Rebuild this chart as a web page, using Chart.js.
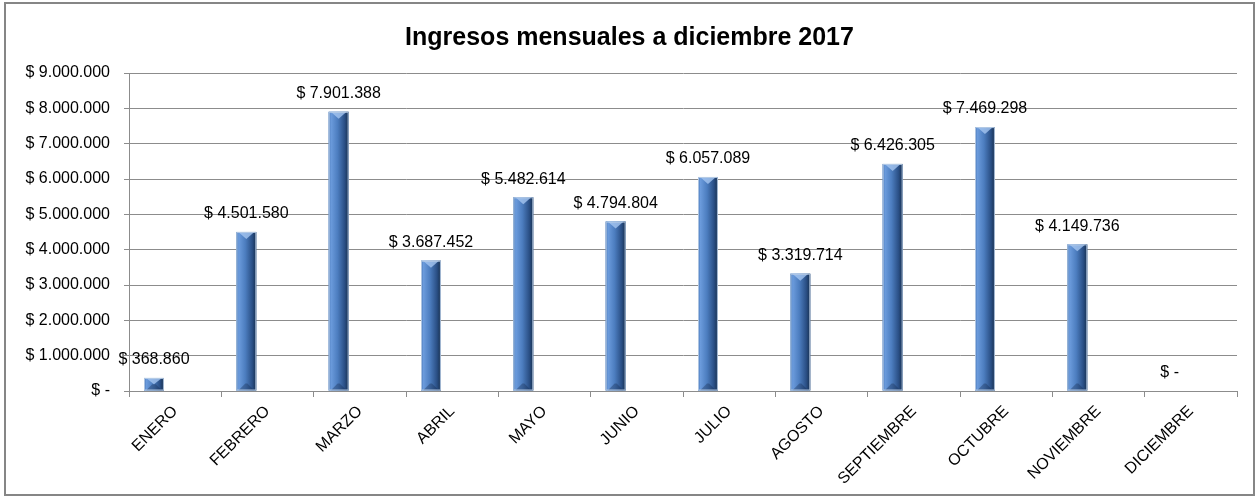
<!DOCTYPE html>
<html>
<head>
<meta charset="utf-8">
<script src="https://cdn.jsdelivr.net/npm/chart.js@4"></script>
<style>
  body { margin: 0; background: #fff; }
  #grafico { display: block; }
</style>
</head>
<body>
<canvas id="grafico" width="1259" height="497"></canvas>
<script>
// datos
var meses = ['ENERO', 'FEBRERO', 'MARZO', 'ABRIL', 'MAYO', 'JUNIO', 'JULIO', 'AGOSTO', 'SEPTIEMBRE', 'OCTUBRE', 'NOVIEMBRE', 'DICIEMBRE'];
var ingresos = [368860, 4501580, 7901388, 3687452, 5482614, 4794804, 6057089, 3319714, 6426305, 7469298, 4149736, 0];
// serie vacia (el original deja un hueco a la derecha de cada barra)
var vacio = [null, null, null, null, null, null, null, null, null, null, null, null];
var yMin = 0;
var yMax = 9000000;
var yPaso = 1000000;

var fuente = "'Liberation Sans', Arial, sans-serif";
var gris = '#8c8c8c';

function pesos(v) {
    if (!v) return '$ -';
    return '$ ' + String(v).replace(/\B(?=(\d{3})+(?!\d))/g, '.');
}

// marco exterior + barras con relieve + etiquetas
var estilo = {
    id: 'estilo',
    beforeDraw: function(chart) {
        var ctx = chart.ctx;
        ctx.save();
        ctx.fillStyle = '#fff';
        ctx.fillRect(0, 0, chart.width, chart.height);
        ctx.strokeStyle = '#868686';
        ctx.lineWidth = 2;
        ctx.strokeRect(5, 3, 1249, 492);
        ctx.restore();
    },
    afterDatasetsDraw: function(chart) {
        var ctx = chart.ctx;
        var meta = chart.getDatasetMeta(0);
        ctx.save();
        meta.data.forEach(function(bar, i) {
            var v = ingresos[i];
            var w = bar.width, x0 = bar.x - w / 2, x1 = bar.x + w / 2;
            var top = bar.y, base = bar.base;
            if (v > 0) {
                var g = ctx.createLinearGradient(x0, 0, x1, 0);
                g.addColorStop(0, '#4675b5');
                g.addColorStop(0.12, '#6b9bdc');
                g.addColorStop(0.45, '#4c7dbf');
                g.addColorStop(0.8, '#2a4f85');
                g.addColorStop(1, '#17304f');
                ctx.fillStyle = g;
                ctx.fillRect(x0, top, w, base - top);
                var h = Math.min(w * 0.35, (base - top) / 2);
                // tapa superior
                ctx.fillStyle = 'rgba(165,198,240,0.8)';
                ctx.beginPath();
                ctx.moveTo(x0 + 2, top);
                ctx.lineTo(x1 - 2, top);
                ctx.lineTo(bar.x, top + h);
                ctx.closePath();
                ctx.fill();
                // base
                ctx.fillStyle = 'rgba(20,40,75,0.35)';
                ctx.beginPath();
                ctx.moveTo(x0 + 2, base);
                ctx.lineTo(x1 - 2, base);
                ctx.lineTo(x1 - 2 - h, base - h);
                ctx.lineTo(x0 + 2 + h, base - h);
                ctx.closePath();
                ctx.fill();
                ctx.strokeStyle = 'rgba(185,205,229,0.9)';
                ctx.lineWidth = 1;
                ctx.strokeRect(x0 + 0.5, top + 0.5, w - 1, base - top - 1);
            }
            ctx.fillStyle = '#000';
            ctx.font = '16px ' + fuente;
            ctx.textAlign = 'center';
            ctx.textBaseline = 'middle';
            ctx.fillText(pesos(v), bar.x, top - 18);
        });
        ctx.restore();
    }
};

var ctx = document.getElementById('grafico');
var grafico = new Chart(ctx, {
    type: 'bar',
    data: {
        labels: meses,
        datasets: [{
            label: 'Ingresos',
            data: ingresos,
            backgroundColor: '#4f81bd',
            barPercentage: 0.47,
            categoryPercentage: 0.918
        }, {
            label: '',
            data: vacio,
            backgroundColor: 'rgba(0,0,0,0)',
            barPercentage: 0.47,
            categoryPercentage: 0.918
        }]
    },
    options: {
        responsive: false,
        animation: false,
        layout: {
            padding: { left: 22, right: 22, top: 0, bottom: 0 }
        },
        plugins: {
            legend: { display: false },
            tooltip: { enabled: false },
            title: {
                display: true,
                text: 'Ingresos mensuales a diciembre 2017',
                color: '#000',
                font: { family: fuente, size: 25, weight: 'bold' },
                padding: { top: 23, bottom: 20 }
            }
        },
        scales: {
            x: {
                grid: { drawOnChartArea: false, drawTicks: true, tickLength: 6, color: gris },
                border: { color: gris },
                ticks: {
                    color: '#000',
                    font: { family: fuente, size: 16 },
                    maxRotation: 45,
                    minRotation: 45,
                    padding: 5,
                    autoSkip: false
                },
                afterFit: function(scale) { scale.height = 106; }
            },
            y: {
                min: yMin,
                max: yMax,
                grid: { color: gris, tickLength: 5 },
                border: { color: gris },
                ticks: {
                    stepSize: yPaso,
                    color: '#000',
                    font: { family: fuente, size: 16 },
                    padding: 14,
                    callback: function(v) { return pesos(v); }
                },
                afterFit: function(scale) { scale.width = 107; }
            }
        }
    },
    plugins: [estilo]
});
</script>
</body>
</html>
